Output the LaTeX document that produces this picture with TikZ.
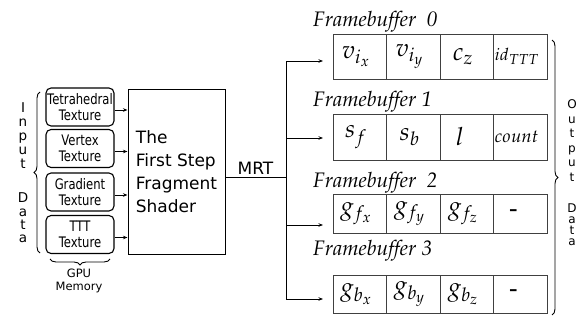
\documentclass[tikz,border=0pt]{standalone}
\usepackage{mathpazo}
\usepackage[no-math]{fontspec}
\setmainfont{DejaVu Sans}
\newfontfamily\condsans[FakeStretch=0.8]{DejaVu Sans}
\usetikzlibrary{arrows.meta,decorations.pathreplacing}

\tikzset{
  texbox/.style={draw, line width=1.1pt, rounded corners=5pt, minimum width=68pt,
    minimum height=38pt, inner sep=0pt, align=center,
    font=\condsans\fontsize{14.5}{16.5}\selectfont},
  shaderbox/.style={draw, line width=1pt, minimum width=97pt, minimum height=164pt,
    align=left, font=\fontsize{17}{23}\selectfont},
  cell/.style={draw=black!75, line width=0.9pt, minimum width=53.5pt, inner sep=0pt,
    font=\fontsize{25}{27}\selectfont, execute at end node=\hspace*{8pt}},
  narrowcell/.style={cell, execute at end node=\hspace*{6pt}},
  smallcell/.style={cell, font=\fontsize{18}{20}\selectfont, execute at end node={}},
  fbtitle/.style={anchor=base west, inner sep=0pt,
    font=\fontencoding{OT1}\fontfamily{ppl}\fontshape{it}\fontsize{21}{23}\selectfont},
  link/.style={line width=0.8pt, -{Stealth[length=4.5pt,width=3.5pt]}},
  wire/.style={line width=0.8pt},
  brc/.style={line width=0.9pt, decorate, decoration={brace, amplitude=6pt}},
  vletter/.style={anchor=base, inner sep=0pt},
}

\begin{document}
\begin{tikzpicture}[x=1pt,y=-1pt]
\useasboundingbox (0,0) rectangle (585,320);

% input textures
\node[texbox] (t1) at (80,107)   {Tetrahedral\\Texture};
\node[texbox] (t2) at (80,148.5) {Vertex\\Texture};
\node[texbox] (t3) at (80,192)   {Gradient\\Texture};
\node[texbox] (t4) at (80,234.5) {TTT\\Texture};

% shader
\node[shaderbox] (shader) at (176.5,172) {The\\First Step\\Fragment\\Shader};

\foreach \k in {1,...,4}
  \draw[link] ([yshift=-3pt]t\k.east) -- ([yshift=-3pt]t\k.east -| shader.west);

% left brace and label
\draw[brc] (40,253) -- (40,92);
\foreach \c/\yy [count=\k] in {I/113,n/127,p/141,u/155,t/169,D/203,a/216,t/229,a/242}
  \node[vletter, font=\fontsize{13.5}{14}\selectfont] (in\k) at (23,\yy) {\c};

% bottom brace and label
\draw[brc] (110,259) -- (50,259);
\node[align=center, inner sep=0pt, anchor=north, font=\fontsize{11.5}{12.5}\selectfont]
  (gpu) at (79,269) {GPU\\Memory};

% MRT fan-out
\coordinate (split) at (286,177);
\draw[wire] (shader.east |- split) -- (split);
\node[anchor=base, inner sep=0pt, font=\fontsize{17}{20}\selectfont] (mrt) at (255.5,175) {MRT};

\coordinate (a0) at (323,61);
\coordinate (a1) at (323,138);
\coordinate (a2) at (323,225);
\coordinate (a3) at (323,299);
\foreach \k in {0,...,3}
  \draw[link] (split) |- (a\k);

% framebuffer titles
\node[fbtitle] (fb0) at (313,27)  {Framebuffer~~0};
\node[fbtitle] (fb1) at (313,107) {Framebuffer 1};
\node[fbtitle] (fb2) at (313,187) {Framebuffer~~2};
\node[fbtitle] (fb3) at (313,255) {Framebuffer 3};

% framebuffer 0
\node[cell, minimum height=45pt] (c00) at (360,56.5)   {$v_{i_x}$};
\node[cell, minimum height=45pt] (c01) at (413.5,56.5) {$v_{i_y}$};
\node[cell, minimum height=45pt] (c02) at (467,56.5)   {$c_z$};
\node[smallcell, font=\fontsize{17}{19}\selectfont, minimum height=45pt] (c03) at (520.5,56.5)
  {$id$\raisebox{-4pt}{\fontsize{14.5}{15}\selectfont$TTT$}};
% framebuffer 1
\node[cell, minimum height=46pt] (c10) at (360,137)   {$s_f$};
\node[cell, minimum height=46pt] (c11) at (413.5,137) {$s_b$};
\node[narrowcell, minimum height=46pt] (c12) at (467,137)   {$l$};
\node[smallcell, minimum height=46pt] (c13) at (520.5,137) {$count$};
% framebuffer 2
\node[cell, minimum height=39pt] (c20) at (360,213.5)   {$g_{f_x}$};
\node[cell, minimum height=39pt] (c21) at (413.5,213.5) {$g_{f_y}$};
\node[cell, minimum height=39pt] (c22) at (467,213.5)   {$g_{f_z}$};
\node[narrowcell, minimum height=39pt] (c23) at (520.5,213.5) {-};
% framebuffer 3
\node[cell, minimum height=38pt] (c30) at (360,294)   {$g_{b_x}$};
\node[cell, minimum height=38pt] (c31) at (413.5,294) {$g_{b_y}$};
\node[cell, minimum height=38pt] (c32) at (467,294)   {$g_{b_z}$};
\node[narrowcell, minimum height=38pt] (c33) at (520.5,294) {-};

% right brace and label
\draw[brc] (552,40) -- (552,315);
\foreach \c/\yy [count=\k] in {O/109,u/123.5,t/138,p/152.5,u/167,t/181.5,D/212,a/223,t/234,a/245}
  \node[vletter, font=\fontsize{12}{13}\selectfont] (out\k) at (572,\yy) {\c};
\end{tikzpicture}
\end{document}
